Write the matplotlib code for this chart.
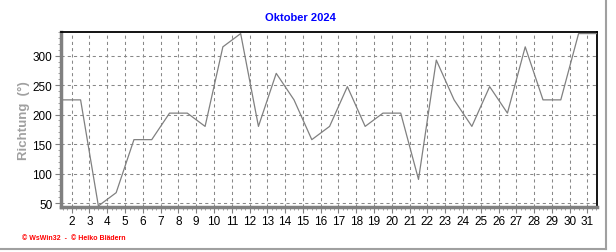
import numpy as np
import matplotlib.pyplot as plt
from matplotlib.ticker import MultipleLocator
from matplotlib.lines import Line2D

# Windrichtung, Tageswerte Oktober 2024
days = list(range(1, 32))
richtung = [225, 225, 45, 67.5, 157.5, 157.5, 202.5, 202.5, 180, 315,
            337.5, 180, 270, 225, 157.5, 180, 247.5, 180, 202.5, 202.5,
            90, 292.5, 225, 180, 247.5, 202.5, 315, 225, 225, 337.5,
            337.5]
tick_days = list(range(2, 32))
y_ticks = [50, 100, 150, 200, 250, 300]

plt.rcParams['font.family'] = ['Liberation Sans', 'DejaVu Sans']

fig = plt.figure(figsize=(6.16, 2.53), dpi=100)
ax = fig.add_axes([0.0985, 0.179, 0.8702, 0.6918])

x = np.array(days) + 0.5
ax.plot(x, richtung, color='#808080', lw=0.9, zorder=3)

ax.set_xlim(1.38, 31.52)
ax.set_ylim(43.7, 340.7)
ax.set_xticks(tick_days)
ax.set_yticks(y_ticks)
ax.xaxis.set_minor_locator(MultipleLocator(0.25))
ax.yaxis.set_minor_locator(MultipleLocator(10))
ax.grid(True, which='major', color='#888888', linestyle=(0, (3, 3)), lw=0.75)

ax.tick_params(axis='both', which='major', labelsize=8.5, color='#808080',
               length=4, width=0.8, pad=2)
ax.tick_params(axis='both', which='minor', color='#909090', length=2, width=0.6)

for side in ('left', 'bottom'):
    ax.spines[side].set_color('#808080')
    ax.spines[side].set_linewidth(2.5)
for side in ('top', 'right'):
    ax.spines[side].set_color('black')
    ax.spines[side].set_linewidth(1.3)

ax.set_ylabel('Richtung  (°)', color='#a0a0a0', fontsize=9.5, fontweight='bold',
              labelpad=2)
fig.text(0.487, 0.93, 'Oktober 2024', color='#0000ff', fontsize=8,
         fontweight='bold', ha='center', va='center')
fig.text(0.035, 0.058, '© WsWin32  -  © Heiko Blädern', color='#ff0000',
         fontsize=5, fontweight='bold', ha='left', va='center')

# Rahmen rechts und unten
fig.add_artist(Line2D([0.984, 0.984], [0.012, 1.0], color='#a0a0a0', lw=1.5,
                      transform=fig.transFigure))
fig.add_artist(Line2D([0.0, 0.984], [0.012, 0.012], color='#a0a0a0', lw=1.5,
                      transform=fig.transFigure))

fig.savefig('out.png', dpi=100)
